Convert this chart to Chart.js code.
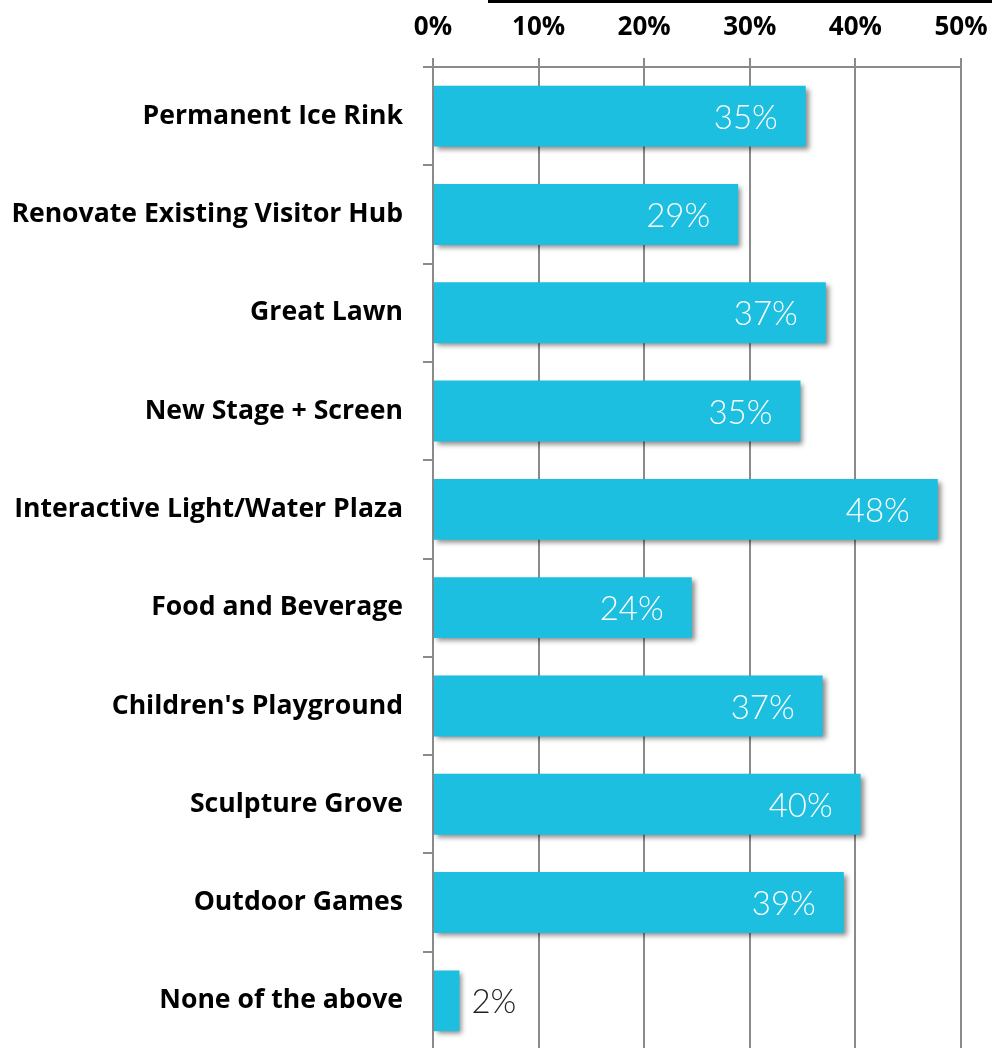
<!DOCTYPE html>
<html>
<head>
<meta charset="utf-8">
<script src="https://cdn.jsdelivr.net/npm/chart.js@4"></script>
<style>
  html, body { margin: 0; padding: 0; background: #fff; overflow: hidden; }
  #wrap { position: relative; width: 992px; height: 1048px; overflow: hidden; }
  #topline { position: absolute; left: 488px; top: 0; width: 504px; height: 3px; background: #000; }
  #chart { position: absolute; left: 0; top: 0; }
</style>
</head>
<body>
<div id="wrap">
  <canvas id="chart" width="992" height="1050"></canvas>
  <div id="topline"></div>
</div>
<script>
// === Data ===
const categories = [
  'Permanent Ice Rink',
  'Renovate Existing Visitor Hub',
  'Great Lawn',
  'New Stage + Screen',
  'Interactive Light/Water Plaza',
  'Food and Beverage',
  "Children's Playground",
  'Sculpture Grove',
  'Outdoor Games',
  'None of the above'
];
const values = [35.3, 28.9, 37.2, 34.8, 47.8, 24.5, 36.9, 40.5, 38.9, 2.5];
const valueLabels = ['35%', '29%', '37%', '35%', '48%', '24%', '37%', '40%', '39%', '2%'];
const tickValues = [0, 10, 20, 30, 40, 50];

// Drop shadow under the bars
const barShadow = {
  id: 'barShadow',
  beforeDatasetsDraw(chart) {
    const c = chart.ctx;
    c.save();
    c.shadowColor = 'rgba(0,0,0,0.45)';
    c.shadowBlur = 5;
    c.shadowOffsetX = 3;
    c.shadowOffsetY = 3;
  },
  afterDatasetsDraw(chart) {
    chart.ctx.restore();
  }
};

// Value labels near the end of each bar
const valueText = {
  id: 'valueText',
  afterDatasetsDraw(chart) {
    const c = chart.ctx;
    const meta = chart.getDatasetMeta(0);
    c.save();
    c.font = '300 33px Lato';
    c.textBaseline = 'middle';
    meta.data.forEach((bar, i) => {
      const w = bar.x - bar.base;
      if (w > 80) {
        c.fillStyle = '#ffffff';
        c.textAlign = 'right';
        c.fillText(valueLabels[i], bar.x - 28, bar.y + 2);
      } else {
        c.fillStyle = '#222222';
        c.textAlign = 'left';
        c.fillText(valueLabels[i], bar.x + 12, bar.y + 2);
      }
    });
    c.restore();
  }
};

const ctx = document.getElementById('chart').getContext('2d');
new Chart(ctx, {
  type: 'bar',
  data: {
    labels: categories,
    datasets: [{
      data: values,
      backgroundColor: '#1cbfdf',
      borderWidth: 0,
      categoryPercentage: 1,
      barPercentage: 0.62
    }]
  },
  options: {
    responsive: false,
    indexAxis: 'y',
    animation: false,
    layout: { padding: 0 },
    plugins: { legend: { display: false }, tooltip: { enabled: false } },
    scales: {
      x: {
        position: 'top',
        min: 0,
        max: 50,
        afterBuildTicks(axis) { axis.ticks = tickValues.map(v => ({ value: v })); },
        afterFit(axis) { axis.height = 67; axis.paddingLeft = 0; axis.paddingRight = 31; },
        ticks: {
          callback: v => v + '%',
          color: '#000',
          font: { family: 'Open Sans', weight: 'bold', size: 26 },
          padding: 15
        },
        grid: { color: '#8a8a8a', lineWidth: 2, tickLength: 9 },
        border: { display: true, color: '#8a8a8a', width: 2 }
      },
      y: {
        afterFit(axis) { axis.width = 433; axis.paddingTop = 0; axis.paddingBottom = 0; },
        ticks: {
          color: '#000',
          font: { family: 'Open Sans', weight: 'bold', size: 26.6 },
          padding: 20
        },
        grid: { offset: true, drawOnChartArea: false, drawTicks: true, tickLength: 10, color: '#8a8a8a', lineWidth: 2 },
        border: { display: true, color: '#8a8a8a', width: 2 }
      }
    }
  },
  plugins: [barShadow, valueText]
});
</script>
</body>
</html>
